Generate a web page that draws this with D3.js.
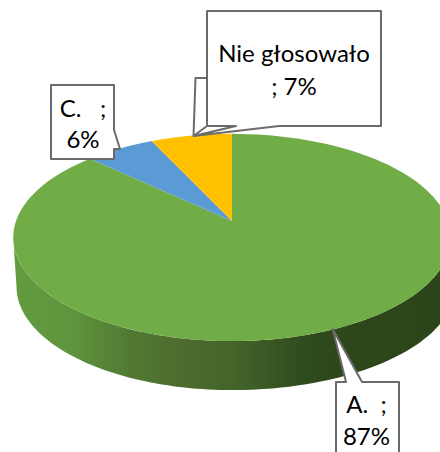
<!DOCTYPE html>
<html lang="en">
<head>
	<meta charset="utf-8">
	<title>pie</title>
	<script src="https://d3js.org/d3.v7.min.js"></script>
	<style type="text/css">
		html, body { margin: 0; padding: 0; background: #fff; }
		svg { display: block; }
		text { font-family: Lato, "Open Sans", sans-serif; font-size: 24px; fill: #000; text-anchor: middle; white-space: pre; }
	</style>
</head>
<body>
	<svg id="chart-svg"></svg>
	<script type="text/javascript">
		// values, clockwise from 12 o'clock
		let categories = ['A.', 'C.', 'Nie głosowało']
		let percents = [87, 6, 7]
		let colors = ['#70ad47', '#5b9bd5', '#ffc000']
		let labelLines = [['A.  ;', '87%'], ['C.   ;', '6%'], ['Nie głosowało', '; 7%']]

		let w = 440
		let h = 452

		let svg = d3.select('#chart-svg').attr('width', w).attr('height', h)

		// tilted disc: circle angle -> screen, with some perspective
		let cx = 232, cy = 221
		let rx = 216, ry = 101, persp = 0.159
		let depth = 49
		function project(a, isBottom) {
			let s = 1 + persp * Math.cos(a)
			// the lower rim is a bit off centre, narrower on the left and wider on the right
			let k = isBottom ? (Math.sin(a) < 0 ? 0.985 : 1.02) : 1
			return [cx + k * rx * Math.sin(a) / s, cy - ry * Math.cos(a) / s + (isBottom ? depth : 0)]
		}
		function arcPoints(a0, a1, isBottom) {
			return d3.range(0, 121).map(i => project(a0 + (a1 - a0) * i / 120, isBottom))
		}

		let pie = d3.pie().sort(null).value(d => d)
		let slices = pie(percents)
		let line = d3.line()

		let defs = svg.append('defs')
		let wallX = d3.scaleLinear().domain([0, 440]).range([0, 1])
		let grad = defs.append('linearGradient').attr('id', 'wall')
			.attr('gradientUnits', 'userSpaceOnUse')
			.attr('x1', 0).attr('x2', 440).attr('y1', 0).attr('y2', 0)
		let wallStopX = [13, 70, 130, 180, 233, 300, 330, 440]
		let wallStopColor = ['#639b40', '#5f953d', '#527a32', '#4d6c2e', '#45642a', '#304d1e', '#2d481b', '#2c4419']
		wallStopX.forEach((x, i) => grad.append('stop').attr('offset', wallX(x)).attr('stop-color', wallStopColor[i]))

		// side wall goes around the front of the disc, between the widest points
		let wallTop = arcPoints(Math.PI * 0.55, Math.PI * 1.45, false)
		let wallBottom = arcPoints(Math.PI * 1.45, Math.PI * 0.55, true)
		svg.append('path')
			.attr('d', line(wallTop.concat(wallBottom)) + 'Z')
			.attr('fill', 'url(#wall)')

		// top face
		svg.selectAll('path.slice')
			.data(slices)
			.enter()
			.append('path')
			.attr('class', 'slice')
			.attr('d', d => line([[cx, cy]].concat(arcPoints(d.startAngle, d.endAngle, false))) + 'Z')
			.attr('fill', (d, i) => colors[i])

		// callouts
		let calloutA = [[336, 382], [346, 382], [332.7, 329], [362, 382], [399, 382], [399, 470], [336, 470]]
		let calloutC = [[51, 85], [114, 85], [114, 130], [120, 149], [114, 149], [114, 159], [51, 159]]
		let calloutN = [[207, 11], [381, 11], [381, 126], [279, 126], [193.5, 136], [236, 126], [207, 126], [207, 78], [195.5, 78], [193.5, 136], [207, 126]]
		let callouts = [calloutA, calloutC, calloutN]

		svg.selectAll('path.callout')
			.data(callouts)
			.enter()
			.append('path')
			.attr('class', 'callout')
			.attr('d', d => line(d) + 'Z')
			.attr('fill', '#fff')
			.attr('stroke', '#6b6b6b')
			.attr('stroke-width', 2)
			.attr('stroke-linejoin', 'round')

		let labelX = [366.5, 83, 294]
		let labelY = [[413, 445], [117, 148], [62, 95]]
		labelLines.forEach((lines, i) => {
			lines.forEach((t, j) => {
				svg.append('text')
					.attr('x', labelX[i])
					.attr('y', labelY[i][j])
					.text(t)
			})
		})
	</script>
</body>
</html>
